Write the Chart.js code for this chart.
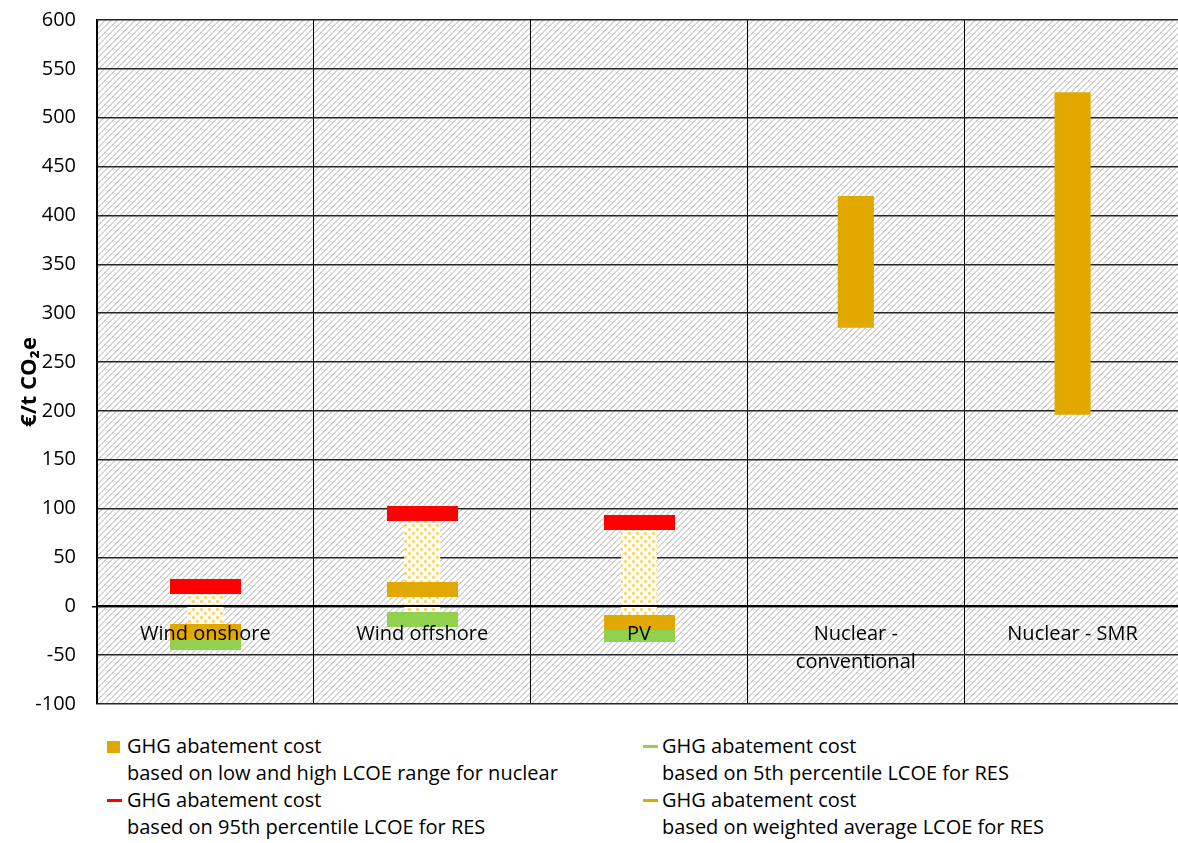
<!DOCTYPE html>
<html><head><meta charset="utf-8">
<script src="https://cdn.jsdelivr.net/npm/chart.js@4.4.1/dist/chart.umd.min.js"></script>
<style>
html,body{margin:0;padding:0;background:#fff;width:1178px;height:843px;overflow:hidden;font-family:"Open Sans",sans-serif;position:relative;}
#wrap{position:absolute;left:0;top:-8px;width:1188px;height:740px;}
.lg{position:absolute;font-size:20px;line-height:27px;color:#000;white-space:nowrap;}
.mk{position:absolute;}
</style></head><body>
<div id="wrap"><canvas id="c"></canvas></div>
<div id="legend"></div>
<script>
// ---- data ----
const categories = ["Wind onshore", "Wind offshore", "PV", ["Nuclear -", "conventional"], "Nuclear - SMR"];
const nuclearRange = [null, null, null, [285, 420], [196, 526]];
const resRange = [[-37, 20], [-14, 95], [-29, 86], null, null];
const res95th = [20, 95, 86, null, null];
const res5th = [-37, -14, -29, null, null];
const resWeighted = [-26, 17, -17, null, null];
const yMin = -100, yMax = 600, yStep = 50;
const yTitle = "€/t CO₂e";
const legendTitles = ["GHG abatement cost", "GHG abatement cost", "GHG abatement cost", "GHG abatement cost"];
const legendSubs = ["based on low and high LCOE range for nuclear", "based on 5th percentile LCOE for RES",
                    "based on 95th percentile LCOE for RES", "based on weighted average LCOE for RES"];

// ---- styles ----
const FONT = '"Open Sans", "Noto Sans", "DejaVu Sans", sans-serif';
const ORANGE = '#E1A800', RED = '#FF0000', GREEN = '#92D050';

function makeHatch() {
  const n = 6;
  const c = document.createElement('canvas'); c.width = n; c.height = n;
  const x = c.getContext('2d'); x.fillStyle = '#fff'; x.fillRect(0, 0, n, n);
  x.fillStyle = '#d4d4d4';
  for (let i = 0; i < n; i++) for (let j = 0; j < n; j++) if ((i + j) % n < 2) x.fillRect(i, j, 1, 1);
  return c;
}
function makeDots() {
  const c = document.createElement('canvas'); c.width = 8; c.height = 8;
  const x = c.getContext('2d'); x.fillStyle = '#fff'; x.fillRect(0, 0, 8, 8);
  x.fillStyle = '#F8DC8E'; x.fillRect(0, 0, 3, 3); x.fillRect(4, 4, 3, 3);
  x.fillStyle = '#F2BF36'; x.fillRect(1, 1, 1, 1); x.fillRect(5, 5, 1, 1);
  return c;
}
function makeMarker(color) {
  const c = document.createElement('canvas'); c.width = 71; c.height = 15;
  const x = c.getContext('2d'); x.fillStyle = color; x.fillRect(0, 0, 71, 15);
  return c;
}

const canvas = document.getElementById('c');
const cctx = canvas.getContext('2d');
const hatchPattern = cctx.createPattern(makeHatch(), 'repeat');
const dotPattern = cctx.createPattern(makeDots(), 'repeat');

const bgPlugin = {
  id: 'bg',
  beforeDraw(chart) {
    const { ctx, chartArea: a } = chart;
    ctx.save(); ctx.fillStyle = hatchPattern;
    ctx.fillRect(a.left, a.top, a.right - a.left, a.bottom - a.top);
    ctx.restore();
  }
};
// y-axis title drawn as canvas text, slightly below the axis middle as in the reference
const titlePlugin = {
  id: 'ytitle',
  afterDraw(chart) {
    const { ctx, chartArea: a } = chart;
    ctx.save();
    ctx.translate(30, a.top + 362);
    ctx.rotate(-Math.PI / 2);
    ctx.textAlign = 'center'; ctx.textBaseline = 'middle';
    ctx.fillStyle = '#000';
    ctx.font = 'bold 22px ' + FONT;
    ctx.fillText(yTitle, 0, 0);
    ctx.restore();
  }
};

function markerDs(label, data, color, order) {
  return { type: 'line', label, data, showLine: false, pointStyle: makeMarker(color),
           pointRadius: 6, pointHoverRadius: 6, order, borderColor: color, backgroundColor: color };
}

new Chart(canvas, {
  type: 'bar',
  data: {
    labels: categories,
    datasets: [
      markerDs('95th', res95th, RED, 1),
      markerDs('weighted', resWeighted, ORANGE, 2),
      markerDs('5th', res5th, GREEN, 3),
      { type: 'bar', label: 'RES range', data: resRange, backgroundColor: dotPattern, grouped: false,
        barPercentage: 1 / 6, categoryPercentage: 1, order: 4 },
      { type: 'bar', label: 'Nuclear range', data: nuclearRange, backgroundColor: ORANGE, grouped: false,
        barPercentage: 1 / 6, categoryPercentage: 1, order: 5 }
    ]
  },
  options: {
    responsive: true, maintainAspectRatio: false, animation: false,
    layout: { padding: { top: 11, bottom: 12, left: 0, right: 0 } },
    plugins: { legend: { display: false }, tooltip: { enabled: false } },
    scales: {
      x: {
        type: 'category', position: { y: 0 }, offset: true,
        grid: { offset: true, color: '#000', lineWidth: 1, drawTicks: false },
        border: { display: true, color: '#000', width: 2, z: 1 },
        ticks: { color: '#000', font: { family: FONT, size: 20, lineHeight: 1.4 }, padding: 14,
                 maxRotation: 0, autoSkip: false, z: 1 }
      },
      y: {
        min: yMin, max: yMax,
        ticks: { stepSize: yStep, color: '#000', font: { family: FONT, size: 20 }, padding: 16 },
        grid: { color: '#262626', lineWidth: 1.5, tickLength: 5,
                tickColor: c => (c.tick && c.tick.value === 0) ? '#000' : 'rgba(0,0,0,0)' },
        border: { color: '#000', width: 1.5 },
        title: { display: false },
        afterFit(s) { s.width = 97; }
      }
    }
  },
  plugins: [bgPlugin, titlePlugin]
});

// ---- legend (HTML) ----
const legendMarkers = [
  { kind: 'square', color: ORANGE }, { kind: 'dash', color: GREEN },
  { kind: 'dash', color: RED }, { kind: 'dash', color: ORANGE }
];
const lg = document.getElementById('legend');
const colX = [127, 662], markX = [107, 643], rowTop = [732, 786];
legendTitles.forEach((t, i) => {
  const col = i % 2, row = Math.floor(i / 2);
  const top = rowTop[row];
  const m = document.createElement('div'); m.className = 'mk';
  const mk = legendMarkers[i];
  if (mk.kind === 'square') { m.style.cssText = `left:${markX[col]}px;top:${top + 9}px;width:13px;height:12px;background:${mk.color}`; }
  else { m.style.cssText = `left:${markX[col]}px;top:${top + 13}px;width:15px;height:3px;background:${mk.color}`; }
  lg.appendChild(m);
  const d = document.createElement('div'); d.className = 'lg';
  d.style.left = colX[col] + 'px'; d.style.top = top + 'px';
  d.innerHTML = t + '<br>' + legendSubs[i];
  lg.appendChild(d);
});
</script>
</body></html>
